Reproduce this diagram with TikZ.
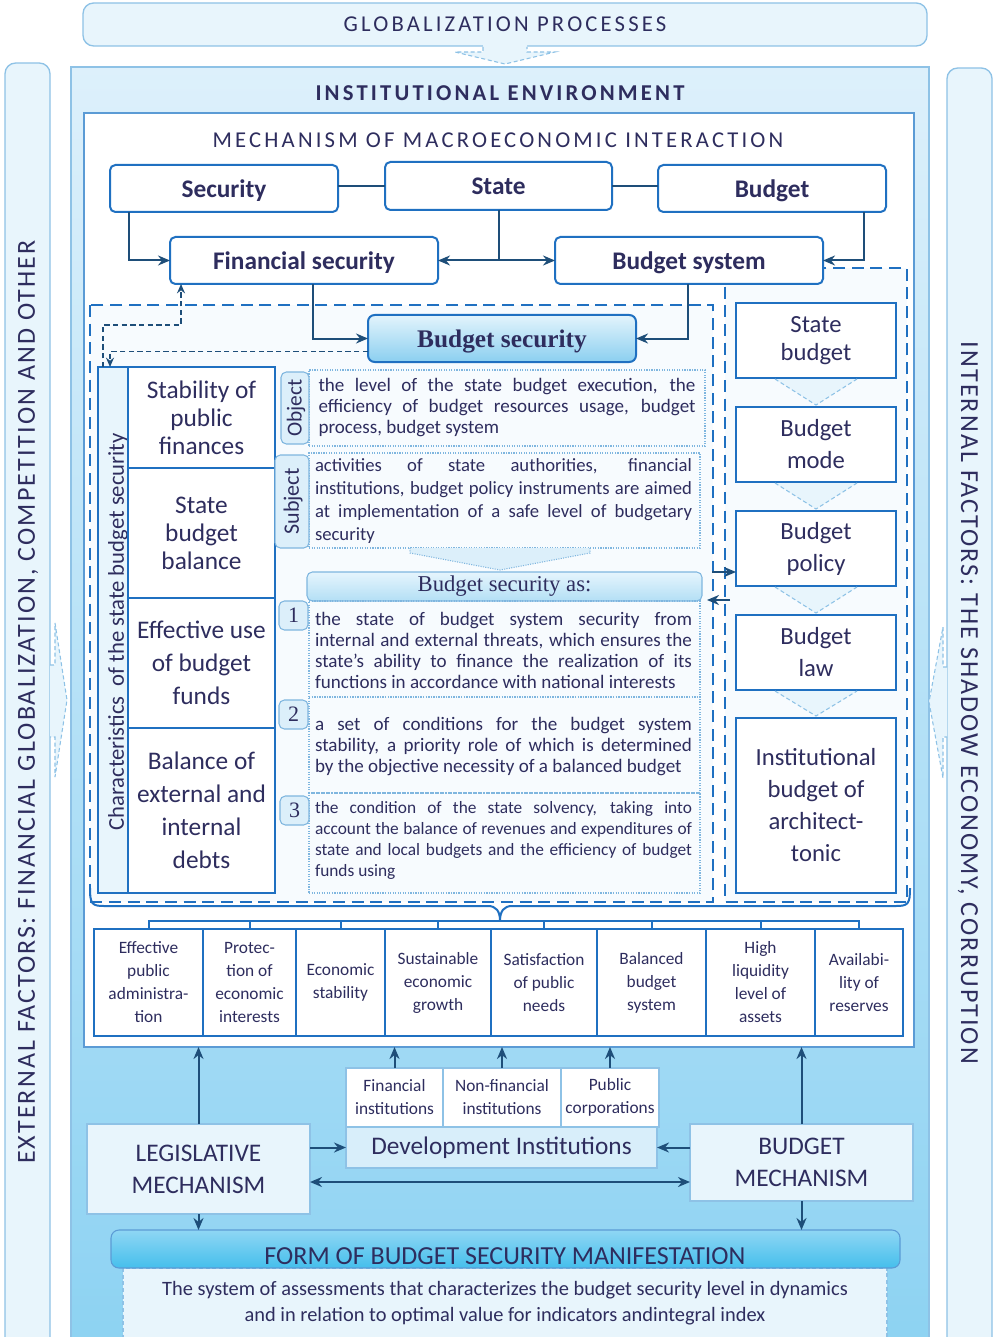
\documentclass[tikz,border=0pt]{standalone}
\usepackage{fontspec}
\setmainfont{Carlito}
\newfontfamily\myserif{Liberation Serif}
\newfontfamily\myttl[LetterSpace=14]{Carlito}
\newfontfamily\myside[LetterSpace=8]{Carlito}
\usetikzlibrary{arrows.meta,calc}
\definecolor{txt}{HTML}{2E2D5E}
\definecolor{arrc}{HTML}{1E4E79}
\definecolor{bb}{HTML}{1F70C1}
\definecolor{lb}{HTML}{8EC2E6}
\definecolor{mb}{HTML}{5B9BD5}
\definecolor{pale}{HTML}{E8F5FC}
\definecolor{pale2}{HTML}{DCEFFA}
\definecolor{envtop}{HTML}{DDF0FB}
\definecolor{envbot}{HTML}{8CD2F2}
\definecolor{formtop}{HTML}{8FD6F4}
\definecolor{formbot}{HTML}{45BFEC}
\definecolor{dotc}{HTML}{7FB6DF}
\definecolor{innerc}{HTML}{F7FBFE}
\definecolor{bstop}{HTML}{E3F4FC}
\definecolor{bsbot}{HTML}{8BCFF0}
\definecolor{bsatop}{HTML}{E6F5FD}
\definecolor{bsabot}{HTML}{B3DFF5}
\definecolor{devc}{HTML}{D8EEFA}
\newcommand\fsz[2]{\fontsize{#1}{#2}\selectfont}
% box node from pixel corners: options, name, x1, y1, x2, y2, text
\newcommand\bxn[7]{%
  \pgfmathsetmacro\bxw{(#5-#3)*0.75}%
  \pgfmathsetmacro\bxh{(#6-#4)*0.75}%
  \node[#1, minimum width=\bxw pt, minimum height=\bxh pt, anchor=center] (#2) at ({(#3+#5)/2},{(#4+#6)/2}) {#7};}
\begin{document}
\hyphenpenalty=10000 \exhyphenpenalty=10000
\begin{tikzpicture}[x=0.75pt,y=-0.75pt,
  every node/.style={text=txt, inner sep=0pt, outer sep=0pt},
  bbox/.style={draw=bb, line width=1.5pt, fill=white, align=center},
  rbox/.style={bbox, rounded corners=4pt},
  topfont/.style={font=\bfseries\fsz{19}{22}, text depth=0pt},
  lowbox/.style={draw=lb, fill=pale, line width=1.1pt, align=center},
  instbox/.style={draw=lb, fill=white, line width=1.1pt, align=center, font=\fsz{13}{17.25}},
  tagbox/.style={draw=dotc, fill=pale2, line width=0.8pt, rounded corners=4pt},
  dotbox/.style={draw=dotc, densely dotted, line width=0.9pt},
  parabox/.style={text width=282.75pt, align=justify},
  smallbox/.style={draw=bb, line width=1.5pt, fill=white, align=center, font=\fsz{13}{17.25}},
  conn/.style={draw=arrc, line width=1.5pt, -{Stealth[length=9pt,width=7.5pt]}},
  dconn/.style={draw=arrc, line width=1.3pt, dash pattern=on 4pt off 2.5pt, -{Stealth[length=7pt,width=6pt]}},
  plainline/.style={draw=arrc, line width=1.5pt},
  treeline/.style={draw=bb, line width=1.5pt},
  hollowline/.style={draw=lb, densely dashed, line width=0.8pt},
  dashbox/.style={draw=bb, line width=1.6pt, dash pattern=on 9pt off 5pt, fill=innerc},
]
\useasboundingbox (0,0) rectangle (994,1337);
\fill[white] (0,0) rectangle (994,1337);

% ---------- globalization ----------
\bxn{draw=lb, fill=pale, line width=1pt, rounded corners=8pt, font=\myttl\fsz{17}{20}}{glob}{83}{3}{927}{46}{GLOBALIZATION PROCESSES}
\fill[pale] (483,45) -- (483,52) -- (455,52) -- (505,64) -- (555,52) -- (527,52) -- (527,45) -- cycle;
\draw[hollowline] (483,47) -- (483,52) -- (455,52) -- (505,64) -- (555,52) -- (527,52) -- (527,47);

% ---------- side bars ----------
\draw[draw=lb, fill=pale, line width=1pt, rounded corners=8pt] (5,1360) -- (5,63) -- (50,63) -- (50,1360) -- cycle;
\draw[draw=lb, fill=pale, line width=1pt, rounded corners=8pt] (947,1360) -- (947,68) -- (992,68) -- (992,1360) -- cycle;
\node[rotate=90, font=\myside\fsz{19.5}{22}] (extf) at (28,702) {EXTERNAL FACTORS: FINANCIAL GLOBALIZATION, COMPETITION AND OTHER};
\node[rotate=-90, font=\myside\fsz{19.5}{22}] (intf) at (968,703) {INTERNAL FACTORS: THE SHADOW ECONOMY, CORRUPTION};

% ---------- institutional environment ----------
\shade[top color=envtop, bottom color=envbot] (71,67) rectangle (929,1360);
\draw[lb, line width=1pt] (71,1360) -- (71,67) -- (929,67) -- (929,1360);
\node[font=\myttl\bfseries\fsz{17}{20}] (inst) at (500,93) {INSTITUTIONAL ENVIRONMENT};

% side hollow arrows
\fill[pale] (50,665) -- (55,665) -- (55,623) -- (67,700) -- (55,777) -- (55,737) -- (50,737) -- cycle;
\draw[hollowline] (50,665) -- (55,665) -- (55,623) -- (67,700) -- (55,777) -- (55,737) -- (50,737);
\fill[pale] (947,667) -- (943,667) -- (943,627) -- (929,702) -- (943,778) -- (943,737) -- (947,737) -- cycle;
\draw[hollowline] (947,667) -- (943,667) -- (943,627) -- (929,702) -- (943,778) -- (943,737) -- (947,737);

% ---------- mechanism ----------
\bxn{draw=mb, fill=white, line width=1.2pt}{mech}{84}{113}{914}{1047}{}
\node[font=\myttl\fsz{17}{20}] (mecht) at (498,140) {MECHANISM OF MACROECONOMIC INTERACTION};

% dashed groups
\draw[dashbox] (90,305) rectangle (713,902);
\draw[dashbox] (725,268) rectangle (907,902);

% brace
\draw[treeline] (90,888) .. controls (90,904) and (92,906) .. (104,906) -- (488,906) .. controls (496,906) and (500,911) .. (500,921) .. controls (500,911) and (504,906) .. (512,906) -- (896,906) .. controls (908,906) and (910,904) .. (910,888);

% ---------- top rows ----------
\bxn{rbox, topfont}{sec}{110}{165}{338}{212}{Security}
\bxn{rbox, topfont}{st}{385}{162}{612}{210}{State}
\bxn{rbox, topfont}{bud}{658}{165}{886}{212}{Budget}
\draw[plainline] (st.west -| sec.east) -- (st.west);
\draw[plainline] (st.east) -- (st.east -| bud.west);

\bxn{rbox, topfont}{fin}{170}{237}{438}{284}{Financial security}
\bxn{rbox, topfont}{bsys}{555}{237}{823}{284}{Budget system}

\draw[conn] ($(sec.south west)+(19,0)$) |- (fin.west);
\draw[conn] (st.south) |- (fin.east);
\draw[conn] (st.south) |- (bsys.west);
\draw[conn] ($(bud.south east)+(-22,0)$) |- (bsys.east);

\bxn{draw=bb, line width=1.5pt, rounded corners=5pt, top color=bstop, bottom color=bsbot, text depth=0pt, font=\myserif\bfseries\fsz{19}{22}}{bsec}{368}{315}{636}{362}{Budget security}
\draw[conn] ($(fin.south west)+(143,0)$) |- (bsec.west);
\draw[conn] ($(bsys.south west)+(133,0)$) |- (bsec.east);

% ---------- left column ----------
\bxn{bbox, fill=pale}{char}{98}{367}{128}{893}{}
\node[rotate=90, font=\fsz{17}{20}] (chart) at (118,632) {Characteristics\ \ of the state budget security};
\draw[dconn] ($(bsec.west)+(0,13)$) -| ($(char.north west)+(12,0)$);
\draw[dconn] ($(char.north west)+(5,0)$) -- ++(0,-42) -| ($(fin.south west)+(11,0)$);

\bxn{bbox, font=\fsz{19}{21}}{lc1}{128}{367}{275}{468}{Stability of\\public\\finances}
\bxn{bbox, font=\fsz{19}{21}}{lc2}{128}{468}{275}{598}{State\\budget\\balance}
\bxn{bbox, font=\fsz{19}{24.75}}{lc3}{128}{598}{275}{728}{Effective use\\of budget\\funds}
\bxn{bbox, font=\fsz{19}{24.75}}{lc4}{128}{728}{275}{893}{Balance of\\external and\\internal\\debts}

% ---------- object / subject ----------
\bxn{dotbox}{objb}{309}{370}{705}{446}{}
\node[parabox, font=\fsz{14.3}{15.75}] (objx) at (507,408) {the level of the state budget execution, the\linebreak efficiency of budget resources usage, budget\linebreak process, budget system};
\bxn{tagbox}{objl}{281}{372}{309}{444}{}
\node[rotate=90, font=\fsz{16}{18}] (objt) at ($(objl.center)+(1,0)$) {Object};

\bxn{dotbox}{subb}{309}{453}{700}{548}{}
\node[parabox, font=\fsz{14}{17.25}] (subx) at (503.5,501) {activities of state authorities, financial\linebreak institutions, budget policy instruments are aimed\linebreak at implementation of a safe level of budgetary\linebreak security};
\bxn{tagbox}{subl}{275}{455}{309}{548}{}
\node[rotate=90, font=\fsz{16.5}{18}] (subt) at ($(subl.center)+(1,0)$) {Subject};

\fill[pale2] (410,548) -- (410,553) -- (500,570) -- (590,553) -- (590,548) -- cycle;
\draw[dotc, densely dotted, line width=0.8pt] (410,548) -- (410,553) -- (500,570) -- (590,553) -- (590,548);

\bxn{draw=dotc, line width=0.8pt, rounded corners=4pt, top color=bsatop, bottom color=bsabot, font=\myserif\fsz{17}{20}}{bsa}{307}{572}{702}{601}{Budget security as:}

\bxn{dotbox}{it1b}{309}{601}{700}{697}{}
\bxn{dotbox}{it2b}{309}{697}{700}{793}{}
\bxn{dotbox}{it3b}{309}{793}{700}{893}{}
\node[parabox, font=\fsz{14.3}{15.75}] (it1) at (503.5,650) {the state of budget system security from\linebreak internal and external threats, which ensures the\linebreak state's ability to finance the realization of its\linebreak functions in accordance with national interests};
\node[parabox, font=\fsz{14.3}{15.75}] (it2) at (503.5,747) {a set of conditions for the budget system\linebreak stability, a priority role of which is determined\linebreak by the objective necessity of a balanced budget};
\node[parabox, font=\fsz{13}{15.75}] (it3) at (503.5,840) {the condition of the state solvency, taking into\linebreak account the balance of revenues and expenditures of\linebreak state and local budgets and the efficiency of budget\linebreak funds using};
\bxn{tagbox, font=\myserif\fsz{16.5}{18}}{n1}{279}{601}{308}{630}{1}
\bxn{tagbox, font=\myserif\fsz{16.5}{18}}{n2}{279}{700}{308}{729}{2}
\bxn{tagbox, font=\myserif\fsz{16.5}{18}}{n3}{280}{796}{309}{825}{3}

% ---------- right column ----------
\bxn{bbox, font=\fsz{18.5}{21}}{rc1}{736}{303}{896}{378}{State\\budget}
\bxn{bbox, font=\fsz{18.5}{24}}{rc2}{736}{407}{896}{482}{Budget\\mode}
\bxn{bbox, font=\fsz{18.5}{24}}{rc3}{736}{511}{896}{586}{Budget\\policy}
\bxn{bbox, font=\fsz{18.5}{24}}{rc4}{736}{615}{896}{690}{Budget\\law}
\bxn{bbox, font=\fsz{18.5}{24}}{rc5}{736}{718}{896}{893}{Institutional\\budget of\\architect-\\tonic}
\foreach \a/\b in {rc1/rc2, rc2/rc3, rc3/rc4, rc4/rc5}{
  \fill[pale] ($(\a.south)+(-41,1)$) -- ($(\b.north)+(0,-2)$) -- ($(\a.south)+(41,1)$) -- cycle;
  \draw[hollowline] ($(\a.south)+(-41,1)$) -- ($(\b.north)+(0,-2)$) -- ($(\a.south)+(41,1)$);
}
\coordinate (pa) at (712,572);
\coordinate (pb) at (730,600);
\coordinate (pc) at (707,600);
\draw[conn] (pa) -- (pa -| rc3.west);
\draw[conn] (pb) -- (pc);

% ---------- eight boxes ----------
\bxn{smallbox}{bx1}{94}{929}{203}{1036}{Effective\\public\\administra-\\tion}
\bxn{smallbox}{bx2}{203}{929}{296}{1036}{Protec-\\tion of\\economic\\interests}
\bxn{smallbox}{bx3}{296}{929}{385}{1036}{Economic\\stability}
\bxn{smallbox}{bx4}{385}{929}{491}{1036}{Sustainable\\economic\\growth}
\bxn{smallbox}{bx5}{491}{929}{597}{1036}{Satisfaction\\of public\\needs}
\bxn{smallbox}{bx6}{597}{929}{706}{1036}{Balanced\\budget\\system}
\bxn{smallbox}{bx7}{706}{929}{815}{1036}{High\\liquidity\\level of\\assets}
\bxn{smallbox}{bx8}{815}{929}{903}{1036}{Availabi-\\lity of\\reserves}
\coordinate (bar) at (500,921);
\foreach \i in {1,...,8}{ \draw[treeline] (bx\i.north) -- (bx\i.north |- bar); }
\draw[treeline] ($(bx1.north |- bar)+(-0.75,0)$) -- ($(bx8.north |- bar)+(0.75,0)$);

% ---------- bottom ----------
\bxn{draw=lb, densely dashed, fill=pale, line width=0.8pt}{sys}{123}{1268}{887}{1360}{}
\node[align=center, font=\fsz{15.3}{19.5}] (syst) at (505,1303) {The system of assessments that characterizes the budget security level in dynamics\\and in relation to optimal value for indicators andintegral index};
\bxn{draw=mb, line width=0.8pt, rounded corners=6pt, top color=formtop, bottom color=formbot}{form}{111}{1230}{900}{1268}{}
\node[font=\fsz{19.5}{22}] (formt) at (505,1256) {FORM OF BUDGET SECURITY MANIFESTATION};

\bxn{lowbox, font=\fsz{19}{24}}{leg}{87}{1124}{310}{1214}{LEGISLATIVE\\MECHANISM}
\bxn{lowbox, font=\fsz{19}{24}}{bm}{690}{1124}{913}{1201}{BUDGET\\MECHANISM}
\bxn{lowbox, fill=devc, font=\fsz{19}{22}}{dev}{346}{1127}{657}{1168}{Development Institutions}
\bxn{instbox}{fi}{346}{1068}{443}{1127}{Financial\\institutions}
\bxn{instbox}{nfi}{443}{1068}{561}{1127}{Non-financial\\institutions}
\bxn{instbox}{pcor}{561}{1068}{659}{1127}{Public\\corporations}

\draw[conn] (leg.north) -- (leg.north |- mech.south);
\draw[conn] (bm.north) -- (bm.north |- mech.south);
\draw[conn] (fi.north) -- (fi.north |- mech.south);
\draw[conn] (nfi.north) -- (nfi.north |- mech.south);
\draw[conn] (pcor.north) -- (pcor.north |- mech.south);
\draw[conn] (dev.west -| leg.east) -- (dev.west);
\draw[conn] (dev.east -| bm.west) -- (dev.east);
\coordinate (dl) at ($(leg.east)+(0,13)$);
\draw[draw=arrc, line width=1.5pt, {Stealth[length=9pt,width=7.5pt]}-{Stealth[length=9pt,width=7.5pt]}] (dl) -- (dl -| bm.west);
\draw[conn] (leg.south) -- (leg.south |- form.north);
\draw[conn] (bm.south) -- (bm.south |- form.north);
\end{tikzpicture}
\end{document}
